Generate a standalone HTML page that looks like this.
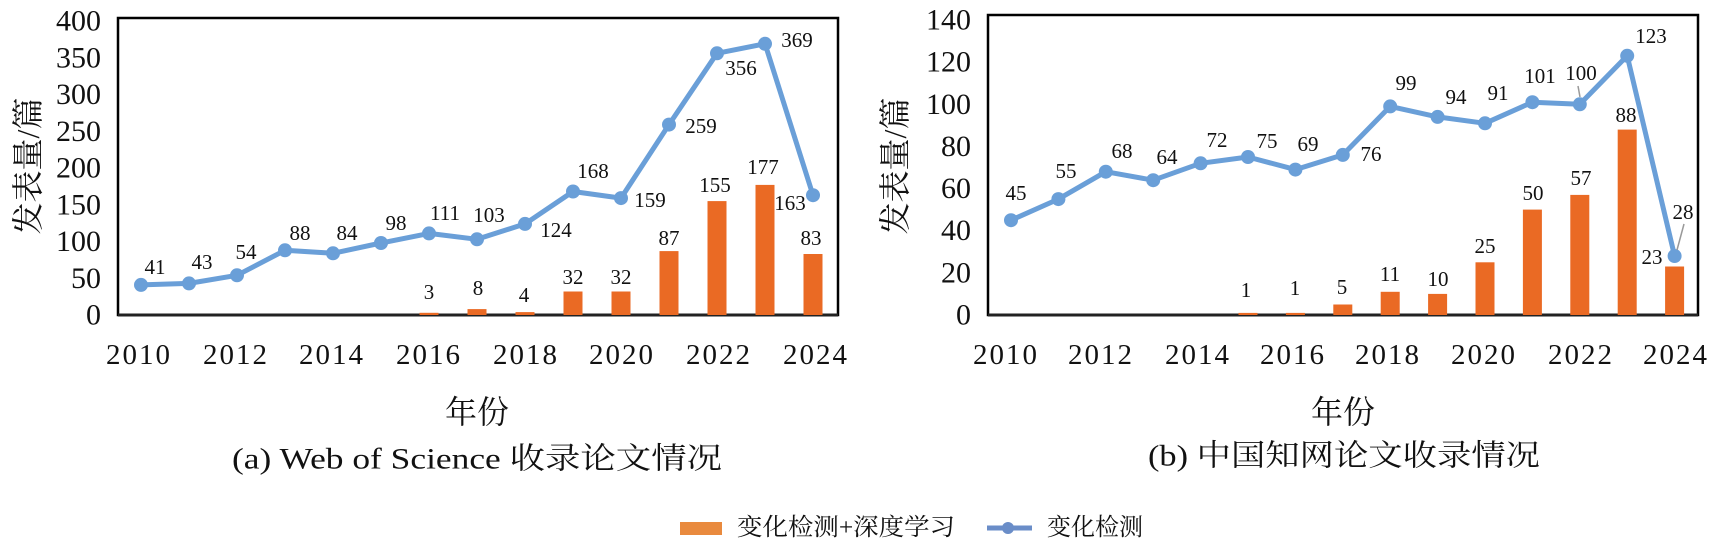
<!DOCTYPE html>
<html><head><meta charset="utf-8"><style>
html,body{margin:0;padding:0;background:#fff;}
svg{display:block;}
text{font-family:"Liberation Serif","Noto Serif CJK SC",serif;fill:#111;}
.t{font-size:30px;}
.x{font-size:29px;letter-spacing:2px;}
.d{font-size:21px;}
.c{font-family:"Liberation Serif","Noto Serif CJK SC",serif;}
</style></head><body>
<svg width="1717" height="544" viewBox="0 0 1717 544" xmlns="http://www.w3.org/2000/svg">
<!-- LEFT CHART -->
<rect x="118" y="18" width="720" height="297" fill="none" stroke="#000" stroke-width="2.5"/>
<line x1="118" y1="315" x2="838" y2="315" stroke="#222" stroke-width="3"/>
<g class="t" text-anchor="end" dominant-baseline="central">
<text x="101" y="315">0</text><text x="101" y="278.3">50</text><text x="101" y="241.5">100</text><text x="101" y="204.8">150</text><text x="101" y="168">200</text><text x="101" y="131.3">250</text><text x="101" y="94.5">300</text><text x="101" y="57.8">350</text><text x="101" y="21">400</text>
</g>
<g class="x" text-anchor="middle" dominant-baseline="central">
<text x="139" y="355">2010</text><text x="236" y="355">2012</text><text x="332" y="355">2014</text><text x="429" y="355">2016</text><text x="526" y="355">2018</text><text x="622" y="355">2020</text><text x="719" y="355">2022</text><text x="816" y="355">2024</text>
</g>
<text class="c" x="0" y="0" font-size="32" text-anchor="middle" dominant-baseline="central" transform="translate(28,166) rotate(-90)">发表量/篇</text>
<g fill="#EA6A24">
<rect x="419.5" y="312.8" width="19" height="2.2"/><rect x="467.5" y="309.1" width="19" height="5.9"/><rect x="515.5" y="312.1" width="19" height="2.9"/><rect x="563.5" y="291.5" width="19" height="23.5"/><rect x="611.5" y="291.5" width="19" height="23.5"/><rect x="659.5" y="251.1" width="19" height="63.9"/><rect x="707.5" y="201.1" width="19" height="113.9"/><rect x="755.5" y="184.9" width="19" height="130.1"/><rect x="803.5" y="254" width="19" height="61"/>
</g>
<polyline fill="none" stroke="#6A9FD8" stroke-width="5" stroke-linejoin="round" points="141,284.9 189,283.4 237,275.3 285,250.3 333,253.3 381,243 429,233.4 477,239.3 525,223.9 573,191.5 621,198.1 669,124.6 717,53.3 765,43.8 813,195.2"/>
<g fill="#6A9FD8">
<circle cx="141" cy="284.9" r="7"/><circle cx="189" cy="283.4" r="7"/><circle cx="237" cy="275.3" r="7"/><circle cx="285" cy="250.3" r="7"/><circle cx="333" cy="253.3" r="7"/><circle cx="381" cy="243" r="7"/><circle cx="429" cy="233.4" r="7"/><circle cx="477" cy="239.3" r="7"/><circle cx="525" cy="223.9" r="7"/><circle cx="573" cy="191.5" r="7"/><circle cx="621" cy="198.1" r="7"/><circle cx="669" cy="124.6" r="7"/><circle cx="717" cy="53.3" r="7"/><circle cx="765" cy="43.8" r="7"/><circle cx="813" cy="195.2" r="7"/>
</g>
<g class="d" text-anchor="middle" dominant-baseline="central">
<text x="155" y="267">41</text><text x="202" y="262">43</text><text x="246" y="252">54</text><text x="300" y="233">88</text><text x="347" y="233">84</text><text x="396" y="223">98</text><text x="445" y="213">111</text><text x="489" y="215">103</text><text x="556" y="230">124</text><text x="593" y="171">168</text><text x="650" y="200">159</text><text x="701" y="126">259</text><text x="741" y="68">356</text><text x="797" y="40">369</text><text x="790" y="203">163</text>
<text x="429" y="292">3</text><text x="478" y="288">8</text><text x="524" y="295">4</text><text x="573" y="277">32</text><text x="621" y="277">32</text><text x="669" y="238">87</text><text x="715" y="185">155</text><text x="763" y="167">177</text><text x="811" y="238">83</text>
</g>
<text class="c" x="477" y="412" font-size="32" text-anchor="middle" dominant-baseline="central">年份</text>
<text class="c" x="477" y="459" font-size="30" text-anchor="middle" dominant-baseline="central" textLength="490" lengthAdjust="spacingAndGlyphs">(a) Web of Science 收录论文情况</text>

<!-- RIGHT CHART -->
<rect x="988" y="15" width="710" height="300" fill="none" stroke="#000" stroke-width="2.5"/>
<line x1="988" y1="315" x2="1698" y2="315" stroke="#222" stroke-width="3"/>
<g class="t" text-anchor="end" dominant-baseline="central">
<text x="971" y="315">0</text><text x="971" y="272.9">20</text><text x="971" y="230.7">40</text><text x="971" y="188.6">60</text><text x="971" y="146.4">80</text><text x="971" y="104.3">100</text><text x="971" y="62.2">120</text><text x="971" y="20">140</text>
</g>
<g class="x" text-anchor="middle" dominant-baseline="central">
<text x="1006" y="355">2010</text><text x="1101" y="355">2012</text><text x="1198" y="355">2014</text><text x="1293" y="355">2016</text><text x="1388" y="355">2018</text><text x="1484" y="355">2020</text><text x="1581" y="355">2022</text><text x="1676" y="355">2024</text>
</g>
<text class="c" x="0" y="0" font-size="32" text-anchor="middle" dominant-baseline="central" transform="translate(895,166) rotate(-90)">发表量/篇</text>
<g fill="#EA6A24">
<rect x="1238.5" y="312.9" width="19" height="2.1"/><rect x="1285.9" y="312.9" width="19" height="2.1"/><rect x="1333.3" y="304.5" width="19" height="10.5"/><rect x="1380.7" y="291.8" width="19" height="23.2"/><rect x="1428.1" y="293.9" width="19" height="21.1"/><rect x="1475.5" y="262.3" width="19" height="52.7"/><rect x="1522.9" y="209.6" width="19" height="105.4"/><rect x="1570.3" y="194.9" width="19" height="120.1"/><rect x="1617.7" y="129.6" width="19" height="185.4"/><rect x="1665.1" y="266.5" width="19" height="48.5"/>
</g>
<polyline fill="none" stroke="#6A9FD8" stroke-width="5" stroke-linejoin="round" points="1011,220.2 1058.4,199.1 1105.8,171.7 1153.2,180.2 1200.6,163.3 1248,157 1295.4,169.6 1342.8,154.9 1390.2,106.4 1437.6,116.9 1485,123.3 1532.4,102.2 1579.8,104.3 1627.2,55.8 1674.6,256"/>
<g fill="#6A9FD8">
<circle cx="1011" cy="220.2" r="7"/><circle cx="1058.4" cy="199.1" r="7"/><circle cx="1105.8" cy="171.7" r="7"/><circle cx="1153.2" cy="180.2" r="7"/><circle cx="1200.6" cy="163.3" r="7"/><circle cx="1248" cy="157" r="7"/><circle cx="1295.4" cy="169.6" r="7"/><circle cx="1342.8" cy="154.9" r="7"/><circle cx="1390.2" cy="106.4" r="7"/><circle cx="1437.6" cy="116.9" r="7"/><circle cx="1485" cy="123.3" r="7"/><circle cx="1532.4" cy="102.2" r="7"/><circle cx="1579.8" cy="104.3" r="7"/><circle cx="1627.2" cy="55.8" r="7"/><circle cx="1674.6" cy="256" r="7"/>
</g>
<line x1="1578" y1="86" x2="1580" y2="97" stroke="#999" stroke-width="1.5"/>
<line x1="1684" y1="224" x2="1677" y2="250" stroke="#999" stroke-width="1.5"/>
<g class="d" text-anchor="middle" dominant-baseline="central">
<text x="1016" y="193">45</text><text x="1066" y="171">55</text><text x="1122" y="151">68</text><text x="1167" y="157">64</text><text x="1217" y="140">72</text><text x="1267" y="141">75</text><text x="1308" y="144">69</text><text x="1371" y="154">76</text><text x="1406" y="83">99</text><text x="1456" y="97">94</text><text x="1498" y="93">91</text><text x="1540" y="76">101</text><text x="1581" y="73">100</text><text x="1651" y="36">123</text><text x="1683" y="212">28</text>
<text x="1246" y="290">1</text><text x="1295" y="288">1</text><text x="1342" y="287">5</text><text x="1390" y="274">11</text><text x="1438" y="279">10</text><text x="1485" y="246">25</text><text x="1533" y="193">50</text><text x="1581" y="178">57</text><text x="1626" y="115">88</text><text x="1652" y="257">23</text>
</g>
<text class="c" x="1343" y="412" font-size="32" text-anchor="middle" dominant-baseline="central">年份</text>
<text class="c" x="1344" y="456" font-size="30" text-anchor="middle" dominant-baseline="central" textLength="392" lengthAdjust="spacingAndGlyphs">(b) 中国知网论文收录情况</text>

<!-- LEGEND -->
<rect x="680" y="522" width="42" height="13" fill="#E98A3E"/>
<text class="c" x="737" y="528" font-size="24" dominant-baseline="central" textLength="218" lengthAdjust="spacingAndGlyphs">变化检测+深度学习</text>
<line x1="987" y1="528" x2="1032" y2="528" stroke="#6A8DC8" stroke-width="5"/>
<circle cx="1008" cy="528" r="6" fill="#6A8DC8"/>
<text class="c" x="1047" y="528" font-size="24" dominant-baseline="central">变化检测</text>
</svg>
</body></html>
